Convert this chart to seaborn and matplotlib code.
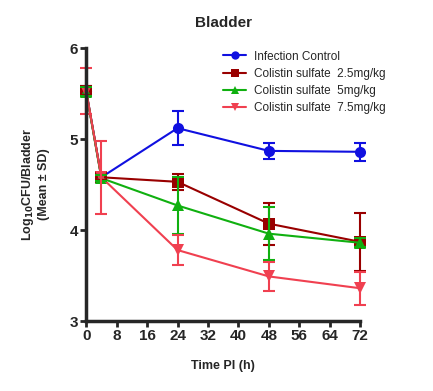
import numpy as np
import pandas as pd
import matplotlib
matplotlib.use('Agg')
import matplotlib.pyplot as plt
import seaborn as sns

# Data
time_h = [0, 4, 24, 48, 72]
groups = ['Infection Control', 'Colistin sulfate  2.5mg/kg',
          'Colistin sulfate  5mg/kg', 'Colistin sulfate  7.5mg/kg']
control_mean = [5.53, 4.58, 5.12, 4.87, 4.86]
control_sd = [0.05, 0.03, 0.19, 0.09, 0.10]
dose25_mean = [5.53, 4.58, 4.53, 4.07, 3.87]
dose25_sd = [0.05, 0.03, 0.09, 0.23, 0.32]
dose5_mean = [5.52, 4.57, 4.27, 3.96, 3.86]
dose5_sd = [0.05, 0.03, 0.31, 0.29, 0.05]
dose75_mean = [5.53, 4.58, 3.78, 3.49, 3.36]
dose75_sd = [0.25, 0.40, 0.16, 0.16, 0.18]

means = [control_mean, dose25_mean, dose5_mean, dose75_mean]
sds = [control_sd, dose25_sd, dose5_sd, dose75_sd]
colors = ['#1010e0', '#990000', '#10b010', '#f04050']
markers = ['o', 's', '^', 'v']

df = pd.DataFrame({
    'Time': np.tile(time_h, len(groups)),
    'Group': np.repeat(groups, len(time_h)),
    'Mean': np.concatenate(means),
    'SD': np.concatenate(sds),
})

sns.set_style('ticks')
plt.rcParams['font.family'] = ['Liberation Sans', 'DejaVu Sans']
plt.rcParams['font.weight'] = 'bold'

fig = plt.figure(figsize=(4.33, 3.91), dpi=100)
ax = fig.add_axes([0.199, 0.179, 0.633, 0.698])

palette = dict(zip(groups, colors))
sns.lineplot(data=df, x='Time', y='Mean', hue='Group', style='Group',
             markers=dict(zip(groups, markers)), dashes=False,
             palette=palette, linewidth=1.5, markersize=8,
             markeredgewidth=0, ax=ax, clip_on=False)

for g in groups:
    sub = df[df['Group'] == g]
    ax.errorbar(sub['Time'], sub['Mean'], yerr=sub['SD'], fmt='none',
                ecolor=palette[g], elinewidth=1.5, capsize=4, capthick=1.5,
                clip_on=False)

ax.set_xlim(0, 72)
ax.set_ylim(3, 6)
ax.set_xticks(np.arange(0, 73, 8))
ax.set_yticks([3, 4, 5, 6])
ax.tick_params(axis='both', width=2, length=4, labelsize=11, pad=2)
for lab in ax.get_xticklabels() + ax.get_yticklabels():
    lab.set_fontweight('bold')
sns.despine(ax=ax)
for s in ['left', 'bottom']:
    ax.spines[s].set_linewidth(2.5)

ax.set_title('Bladder', fontsize=11, fontweight='bold', pad=15)
ax.set_xlabel('Time PI (h)', fontsize=9, fontweight='bold', labelpad=12)
ax.set_ylabel('Log$_{10}$CFU/Bladder\n(Mean ± SD)', fontsize=9,
              fontweight='bold', labelpad=14)

leg = ax.legend(loc='upper left', bbox_to_anchor=(0.46, 1.03), frameon=False,
                handlelength=2.0, labelspacing=0.45, handletextpad=0.6,
                prop={'weight': 'normal', 'size': 8.5})
for h in leg.legend_handles:
    h.set_markersize(6)

fig.savefig('out.png', dpi=100)
